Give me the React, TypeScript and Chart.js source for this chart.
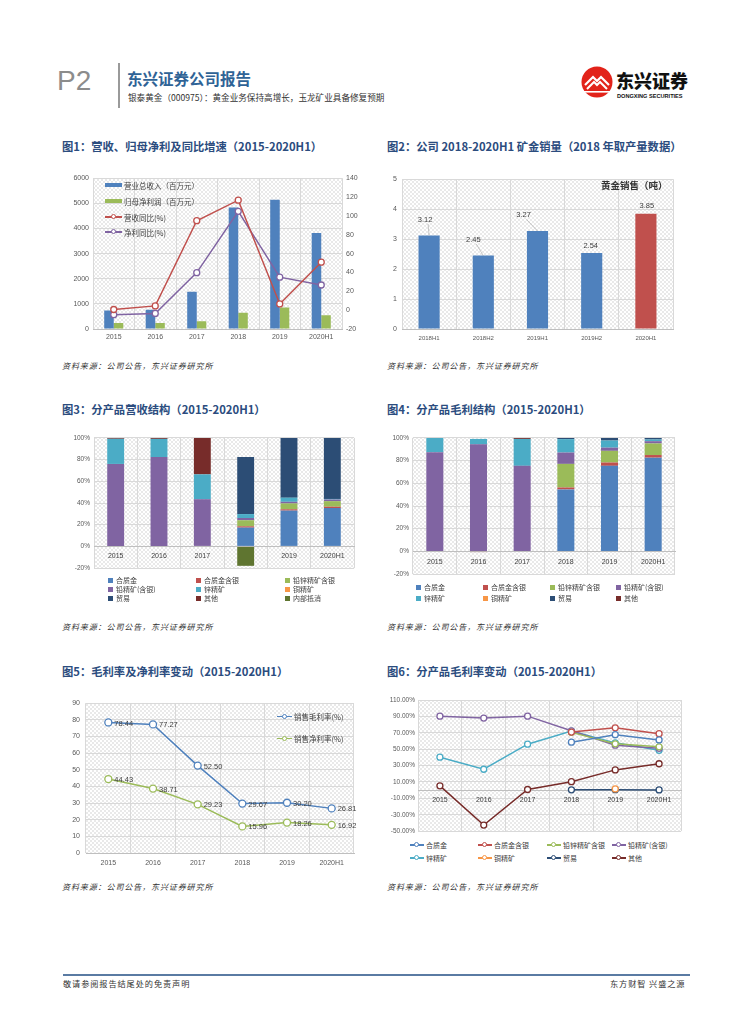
import React, { useEffect, useRef } from "react";
import { Chart, registerables } from "chart.js";
Chart.register(...registerables);

const NUM_FONT = '"Liberation Sans", Arial, sans-serif';
const CJK_FONT = '"Noto Sans CJK SC", "Liberation Sans", sans-serif';

// ---------- DATA ----------
const years = ["2015", "2016", "2017", "2018", "2019", "2020H1"];

// Fig 1
const revenue = [740, 770, 1480, 4830, 5140, 3820];
const netProfit = [234, 234, 312, 650, 857, 545];
const revenueYoY = [0.7, 4.5, 94.9, 116.7, 6.6, 50.9];
const profitYoY = [-4.8, -3.5, 39.8, 104.9, 35.0, 26.7];
const c1LeftTicks = [0, 1000, 2000, 3000, 4000, 5000, 6000];
const c1RightTicks = [-20, 0, 20, 40, 60, 80, 100, 120, 140];

// Fig 2
const halfYears = ["2018H1", "2018H2", "2019H1", "2019H2", "2020H1"];
const goldSales = [3.12, 2.45, 3.27, 2.54, 3.85];
const c2Ticks = [0, 1, 2, 3, 4, 5];

// Fig 3 / Fig 4 / Fig 6 product names
const products = ["合质金", "合质金含银", "铅锌精矿含银", "铅精矿(含银)", "锌精矿", "铜精矿", "贸易", "其他", "内部抵消"];

// Fig 3 revenue structure (%)
const revHzj = [0, 0, 0, 17.3, 33.0, 35.4];
const revHzjy = [0, 0, 0, 1.2, 1.2, 1.2];
const revQxjky = [0, 0, 0, 5.6, 5.4, 5.1];
const revQjk = [76.0, 82.4, 43.5, 2.1, 1.5, 1.5];
const revXjk = [23.2, 16.7, 22.9, 3.6, 3.8, 0.6];
const revTjk = [0, 0, 0, 0, 0, 0];
const revTrade = [0, 0, 0, 52.6, 55.1, 56.2];
const revOther = [0.8, 0.9, 33.6, 0, 0, 0];
const revElim = [0, 0, 0, -17.9, 0, 0];
const pctTicks = [-20, 0, 20, 40, 60, 80, 100];
const pctTickLabels = ["-20%", "0%", "20%", "40%", "60%", "80%", "100%"];

// Fig 4 gross profit structure (%)
const gpHzj = [0, 0, 0, 54.6, 75.4, 82.6];
const gpHzjy = [0, 0, 0, 1.7, 2.9, 2.3];
const gpQxjky = [0, 0, 0, 20.8, 10.3, 10.2];
const gpQjk = [87.4, 94.3, 75.4, 10.0, 2.8, 2.0];
const gpXjk = [12.6, 4.8, 23.7, 11.8, 6.3, 1.5];
const gpTjk = [0, 0, 0, 0, 0, 0];
const gpTrade = [0, 0, 0, 1.1, 2.3, 1.4];
const gpOther = [0, -0.6, 0.9, 0, 0, 0];

// Fig 5
const grossMargin = [78.44, 77.27, 52.5, 29.67, 30.2, 26.81];
const netMargin = [44.43, 38.71, 29.23, 15.96, 18.26, 16.92];
const c5Ticks = [0, 10, 20, 30, 40, 50, 60, 70, 80, 90];

// Fig 6 gross margin by product (%)
const gmHzj = [null, null, null, 58.5, 67.7, 61.3];
const gmHzjy = [null, null, null, 70.8, 76.0, 68.9];
const gmQxjky = [null, null, null, 70.5, 56.5, 52.9];
const gmQjk = [90.3, 88.0, 90.3, 72.4, 54.9, 51.0];
const gmXjk = [40.2, 25.5, 56.1, 72.0, 57.7, 48.6];
const gmTjk = [null, null, null, null, 1.5, null];
const gmTrade = [null, null, null, 0.4, 0.6, 0.3];
const gmOther = [5.2, -42.6, 0.8, 10.3, 24.7, 32.2];
const c6Ticks = [-50, -30, -10, 10, 30, 50, 70, 90, 110];
const c6TickLabels = ["-50.00%", "-30.00%", "-10.00%", "10.00%", "30.00%", "50.00%", "70.00%", "90.00%", "110.00%"];

// ---------- STYLE ----------
const BLUE = "#4f81bd";
const RED = "#c0504d";
const GREEN = "#9bbb59";
const PURPLE = "#8064a2";
const CYAN = "#4bacc6";
const ORANGE = "#f79646";
const NAVY = "#2c4d75";
const DARKRED = "#772c2a";
const DARKGREEN = "#5f7530";
const productColors = [BLUE, RED, GREEN, PURPLE, CYAN, ORANGE, NAVY, DARKRED, DARKGREEN];
const GRID = "#d9d9d9";
const TICK = "#595959";
const TITLE_COLOR = "#2b4c7e";

// label offsets for fig 2 (dx, dy, leader line)
const C2_LABEL_STYLE: [number, number, boolean][] = [
  [-4, -16, true],
  [-10, -16, true],
  [-14, -16, true],
  [-1, -7, false],
  [1, -8, false],
];

let hatchPattern: any = null;
function getHatch(ctx: CanvasRenderingContext2D) {
  if (!hatchPattern) {
    const c = document.createElement("canvas");
    c.width = 4;
    c.height = 4;
    const g = c.getContext("2d")!;
    g.fillStyle = "rgba(0,0,0,0.085)";
    for (let i = 0; i < 4; i++) {
      g.fillRect(i, i, 1, 1);
      if (3 - i !== i) g.fillRect(3 - i, i, 1, 1);
    }
    hatchPattern = ctx.createPattern(c, "repeat");
  }
  return hatchPattern;
}

const hatchPlugin = {
  id: "hatch",
  beforeDraw(chart: any) {
    const { ctx, chartArea } = chart;
    ctx.save();
    ctx.fillStyle = getHatch(ctx);
    ctx.fillRect(chartArea.left, chartArea.top, chartArea.right - chartArea.left, chartArea.bottom - chartArea.top);
    ctx.restore();
  },
};

const fixW = (w: number) => (s: any) => {
  s.width = w;
};
const fixH = (h: number) => (s: any) => {
  s.height = h;
};
const setTicks = (vals: number[]) => (s: any) => {
  s.ticks = vals.map((v) => ({ value: v }));
};
const labelTicks = (vals: number[], labels: string[]) => (v: any) => {
  const i = vals.indexOf(Number(v));
  return i >= 0 ? labels[i] : "";
};
const plainTick = (v: any) => String(v);

const font = (size: number) => ({ family: NUM_FONT, size });

const baseOptions = (padding: any) => ({
  animation: false,
  responsive: false,
  events: [],
  layout: { padding, autoPadding: false },
  plugins: { legend: { display: false }, tooltip: { enabled: false }, title: { display: false } },
});

const lineDs = (label: string, data: any[], color: string, extra: any = {}) => ({
  type: "line",
  label,
  data,
  borderColor: color,
  backgroundColor: "#ffffff",
  borderWidth: 1.5,
  pointRadius: 3,
  pointBorderWidth: 1.3,
  pointBackgroundColor: "#ffffff",
  pointBorderColor: color,
  tension: 0,
  spanGaps: false,
  ...extra,
});

// ---------- CHART CONFIGS ----------
function config1(): any {
  return {
    type: "bar",
    data: {
      labels: years,
      datasets: [
        { type: "bar", label: "营业总收入（百万元）", data: revenue, backgroundColor: BLUE, yAxisID: "y", order: 2 },
        { type: "bar", label: "归母净利润（百万元）", data: netProfit, backgroundColor: GREEN, yAxisID: "y", order: 2 },
        lineDs("营收同比(%)", revenueYoY, RED, { yAxisID: "y1", order: 1 }),
        lineDs("净利同比(%)", profitYoY, PURPLE, { yAxisID: "y1", order: 1 }),
      ],
    },
    options: {
      ...baseOptions({ top: 5, left: 0, right: 0, bottom: 0 }),
      datasets: { bar: { categoryPercentage: 0.46, barPercentage: 1 } },
      scales: {
        x: {
          grid: { offset: true, color: GRID, drawTicks: false },
          border: { color: "#bfbfbf" },
          ticks: { font: font(7), color: TICK, padding: 4, maxRotation: 0, autoSkip: false },
          afterFit: fixH(16),
        },
        y: {
          position: "left",
          min: c1LeftTicks[0],
          max: c1LeftTicks[c1LeftTicks.length - 1],
          afterBuildTicks: setTicks(c1LeftTicks),
          grid: { color: GRID, drawTicks: false },
          border: { display: false },
          ticks: { font: font(7), color: TICK, padding: 4, callback: plainTick },
          afterFit: fixW(33),
        },
        y1: {
          position: "right",
          min: c1RightTicks[0],
          max: c1RightTicks[c1RightTicks.length - 1],
          afterBuildTicks: setTicks(c1RightTicks),
          grid: { display: false, drawTicks: false },
          border: { display: false },
          ticks: { font: font(7), color: TICK, padding: 4, callback: plainTick },
          afterFit: fixW(28),
        },
      },
    },
    plugins: [hatchPlugin],
  };
}

const c2LabelPlugin = {
  id: "c2labels",
  afterDatasetsDraw(chart: any) {
    const { ctx } = chart;
    const meta = chart.getDatasetMeta(0);
    const values = chart.data.datasets[0].data;
    ctx.save();
    ctx.font = `7.5px ${NUM_FONT}`;
    ctx.fillStyle = "#404040";
    ctx.textAlign = "center";
    ctx.textBaseline = "middle";
    meta.data.forEach((bar: any, i: number) => {
      const [dx, dy, leader] = C2_LABEL_STYLE[i];
      const lx = bar.x + dx;
      const ly = bar.y + dy;
      if (leader) {
        ctx.strokeStyle = "#a6a6a6";
        ctx.lineWidth = 0.6;
        ctx.beginPath();
        ctx.moveTo(lx + 3, ly + 4.5);
        ctx.lineTo(bar.x, bar.y);
        ctx.stroke();
      }
      ctx.fillText(Number(values[i]).toFixed(2), lx, ly);
    });
    ctx.restore();
  },
};

function config2(): any {
  return {
    type: "bar",
    data: {
      labels: halfYears,
      datasets: [
        {
          label: "黄金销售（吨）",
          data: goldSales,
          backgroundColor: halfYears.map((_, i) => (i === halfYears.length - 1 ? RED : BLUE)),
          barPercentage: 0.39,
          categoryPercentage: 1,
        },
      ],
    },
    options: {
      ...baseOptions({ top: 5, left: 0, right: 12, bottom: 0 }),
      scales: {
        x: {
          grid: { offset: true, color: GRID, drawTicks: false },
          border: { color: "#bfbfbf" },
          ticks: { font: font(6), color: TICK, padding: 6, maxRotation: 0, autoSkip: false },
          afterFit: fixH(16),
        },
        y: {
          min: c2Ticks[0],
          max: c2Ticks[c2Ticks.length - 1],
          afterBuildTicks: setTicks(c2Ticks),
          grid: { color: GRID, drawTicks: false },
          border: { display: false },
          ticks: { font: font(7), color: TICK, padding: 5, callback: plainTick },
          afterFit: fixW(17),
        },
      },
    },
    plugins: [hatchPlugin, c2LabelPlugin],
  };
}

function stackedConfig(series: number[][], yWidth: number, padding: any, labelPad: number): any {
  return {
    type: "bar",
    data: {
      labels: years,
      datasets: series.map((d, i) => ({
        label: products[i],
        data: d,
        backgroundColor: productColors[i],
        barPercentage: 0.39,
        categoryPercentage: 1,
      })),
    },
    options: {
      ...baseOptions(padding),
      scales: {
        x: {
          stacked: true,
          position: { y: 0 },
          grid: { offset: true, color: GRID, drawTicks: false },
          border: { color: "#bfbfbf" },
          ticks: { font: font(7), color: "#404040", padding: labelPad, maxRotation: 0, autoSkip: false },
        },
        y: {
          stacked: true,
          min: pctTicks[0],
          max: pctTicks[pctTicks.length - 1],
          afterBuildTicks: setTicks(pctTicks),
          grid: { color: GRID, drawTicks: false },
          border: { display: false },
          ticks: { font: font(6.5), color: TICK, padding: 4, callback: labelTicks(pctTicks, pctTickLabels) },
          afterFit: fixW(yWidth),
        },
      },
    },
    plugins: [hatchPlugin],
  };
}

function config3(): any {
  return stackedConfig(
    [revHzj, revHzjy, revQxjky, revQjk, revXjk, revTjk, revTrade, revOther, revElim],
    34,
    { top: 7, left: 0, right: 6, bottom: 4 },
    5
  );
}

function config4(): any {
  return stackedConfig(
    [gpHzj, gpHzjy, gpQxjky, gpQjk, gpXjk, gpTjk, gpTrade, gpOther],
    28,
    { top: 7, left: 0, right: 10, bottom: 5 },
    6
  );
}

const c5LabelPlugin = {
  id: "c5labels",
  afterDatasetsDraw(chart: any) {
    const { ctx } = chart;
    ctx.save();
    ctx.font = `7.5px ${NUM_FONT}`;
    ctx.fillStyle = "#404040";
    ctx.textAlign = "left";
    ctx.textBaseline = "middle";
    chart.data.datasets.forEach((ds: any, di: number) => {
      const meta = chart.getDatasetMeta(di);
      meta.data.forEach((pt: any, i: number) => {
        ctx.fillText(Number(ds.data[i]).toFixed(2), pt.x + 6, pt.y + 1);
      });
    });
    ctx.restore();
  },
};

function config5(): any {
  return {
    type: "line",
    data: {
      labels: years,
      datasets: [
        lineDs("销售毛利率(%)", grossMargin, BLUE, { pointRadius: 3.5 }),
        lineDs("销售净利率(%)", netMargin, GREEN, { pointRadius: 3.5 }),
      ],
    },
    options: {
      ...baseOptions({ top: 7, left: 0, right: 11, bottom: 0 }),
      scales: {
        x: {
          offset: true,
          grid: { offset: true, color: GRID, drawTicks: false },
          border: { color: "#bfbfbf" },
          ticks: { font: font(7), color: TICK, padding: 6, maxRotation: 0, autoSkip: false },
          afterFit: fixH(20),
        },
        y: {
          min: c5Ticks[0],
          max: c5Ticks[c5Ticks.length - 1],
          afterBuildTicks: setTicks(c5Ticks),
          grid: { color: GRID, drawTicks: false },
          border: { display: false },
          ticks: { font: font(7), color: TICK, padding: 6, callback: plainTick },
          afterFit: fixW(31),
        },
      },
    },
    plugins: [hatchPlugin, c5LabelPlugin],
  };
}

function config6(): any {
  const series = [gmHzj, gmHzjy, gmQxjky, gmQjk, gmXjk, gmTjk, gmTrade, gmOther];
  const colors = [BLUE, RED, GREEN, PURPLE, CYAN, ORANGE, NAVY, DARKRED];
  return {
    type: "line",
    data: {
      labels: years,
      datasets: series.map((d, i) => lineDs(products[i], d, colors[i])),
    },
    options: {
      ...baseOptions({ top: 7, left: 0, right: 9, bottom: 4 }),
      scales: {
        x: {
          offset: true,
          position: { y: 0 },
          grid: { offset: true, color: GRID, drawTicks: false },
          border: { color: "#bfbfbf" },
          ticks: { font: font(7), color: "#404040", padding: 6, maxRotation: 0, autoSkip: false },
        },
        y: {
          min: c6Ticks[0],
          max: c6Ticks[c6Ticks.length - 1],
          afterBuildTicks: setTicks(c6Ticks),
          grid: { color: GRID, drawTicks: false },
          border: { display: false },
          ticks: { font: font(6.5), color: TICK, padding: 3, callback: labelTicks(c6Ticks, c6TickLabels) },
          afterFit: fixW(33),
        },
      },
    },
    plugins: [hatchPlugin],
  };
}

// ---------- COMPONENTS ----------
function ChartCanvas({ x, y, w, h, make }: { x: number; y: number; w: number; h: number; make: () => any }) {
  const ref = useRef<HTMLCanvasElement | null>(null);
  useEffect(() => {
    const chart = new Chart(ref.current as HTMLCanvasElement, make());
    return () => chart.destroy();
  }, []);
  return (
    <canvas
      ref={ref}
      width={w}
      height={h}
      style={{ position: "absolute", left: x, top: y, width: w, height: h }}
    />
  );
}

function T({ x, y, s, children, style }: { x: number; y: number; s: number; children: any; style?: any }) {
  return (
    <div
      style={{
        position: "absolute",
        left: x,
        top: y - s * 0.6,
        fontSize: s,
        lineHeight: 1.2,
        whiteSpace: "nowrap",
        fontFamily: CJK_FONT,
        ...style,
      }}
    >
      {children}
    </div>
  );
}

function LineMark({ color, w }: { color: string; w: number }) {
  return (
    <span style={{ position: "relative", display: "inline-block", width: w, height: 8 }}>
      <span style={{ position: "absolute", left: 0, right: 0, top: 3.25, height: 1.5, background: color }} />
      <span
        style={{
          position: "absolute",
          left: w / 2 - 3,
          top: 1,
          width: 3.4,
          height: 3.4,
          borderRadius: "50%",
          border: `1.3px solid ${color}`,
          background: "#fff",
        }}
      />
    </span>
  );
}

type LegendItem = { label: string; color: string; x: number; y: number };
function Legend({ items, kind, s, markW, gap }: { items: LegendItem[]; kind: "box" | "bar" | "line"; s: number; markW: number; gap: number }) {
  return (
    <>
      {items.map((it, i) => (
        <div
          key={i}
          style={{
            position: "absolute",
            left: it.x,
            top: it.y - 5,
            height: 10,
            display: "flex",
            alignItems: "center",
            whiteSpace: "nowrap",
            fontFamily: CJK_FONT,
            fontSize: s,
            color: "#404040",
          }}
        >
          {kind === "line" ? (
            <LineMark color={it.color} w={markW} />
          ) : kind === "bar" ? (
            <span style={{ display: "inline-block", width: markW, height: 4.5, background: it.color }} />
          ) : (
            <span style={{ display: "inline-block", width: markW, height: markW, background: it.color }} />
          )}
          <span style={{ marginLeft: gap }}>{it.label}</span>
        </div>
      ))}
    </>
  );
}

const titleStyle = { color: TITLE_COLOR, fontWeight: 700 };
const sourceStyle = { color: "#333", fontStyle: "italic", letterSpacing: 0.9 };
const SOURCE = "资料来源：公司公告，东兴证券研究所";

function Logo() {
  return (
    <svg style={{ position: "absolute", left: 581, top: 66 }} width={32} height={32} viewBox="0 0 32 32">
      <circle cx={16} cy={16} r={15.5} fill="#e2231a" />
      <path d="M4 19 L12 11 L16 15 L20 11 L28 19" stroke="#fff" strokeWidth={2.2} fill="none" />
      <path d="M6 23 L13 16 L16 19 L19 16 L26 23" stroke="#fff" strokeWidth={2} fill="none" />
      <rect x={3} y={25} width={26} height={1.6} fill="#fff" />
    </svg>
  );
}

export default function App() {
  const c1Legend: LegendItem[] = [
    { label: "营业总收入（百万元）", color: BLUE, x: 105, y: 185 },
    { label: "归母净利润（百万元）", color: GREEN, x: 105, y: 201 },
  ];
  const c1LegendLines: LegendItem[] = [
    { label: "营收同比(%)", color: RED, x: 105, y: 217 },
    { label: "净利同比(%)", color: PURPLE, x: 105, y: 232 },
  ];
  const c3Cols = [108, 196, 285];
  const c3Rows = [580, 589, 598];
  const c3Legend: LegendItem[] = products.map((p, i) => ({
    label: p,
    color: productColors[i],
    x: c3Cols[i % 3],
    y: c3Rows[Math.floor(i / 3)],
  }));
  const c4Cols = [416, 483, 550, 616];
  const c4Rows = [587, 598];
  const c4Legend: LegendItem[] = products.slice(0, 8).map((p, i) => ({
    label: p,
    color: productColors[i],
    x: c4Cols[i % 4],
    y: c4Rows[Math.floor(i / 4)],
  }));
  const c5Legend: LegendItem[] = [
    { label: "销售毛利率(%)", color: BLUE, x: 277, y: 716.7 },
    { label: "销售净利率(%)", color: GREEN, x: 277, y: 738.7 },
  ];
  const c6Cols = [410, 478, 547, 612];
  const c6Rows = [845, 858];
  const c6Legend: LegendItem[] = products.slice(0, 8).map((p, i) => ({
    label: p,
    color: [BLUE, RED, GREEN, PURPLE, CYAN, ORANGE, NAVY, DARKRED][i],
    x: c6Cols[i % 4],
    y: c6Rows[Math.floor(i / 4)],
  }));

  return (
    <div style={{ position: "absolute", left: 0, top: 0, width: 755, height: 1024, background: "#fff", overflow: "hidden" }}>
      {/* header */}
      <T x={57} y={81} s={28} style={{ fontFamily: NUM_FONT, color: "#8c8c8c" }}>
        P2
      </T>
      <div style={{ position: "absolute", left: 118, top: 63, width: 1.5, height: 45, background: "#9a9a9a" }} />
      <T x={127} y={78} s={15.5} style={{ color: "#2f6396", fontWeight: 700 }}>
        东兴证券公司报告
      </T>
      <T x={128} y={97.5} s={8.6} style={{ color: "#333" }}>
        银泰黄金（000975）：黄金业务保持高增长，玉龙矿业具备修复预期
      </T>
      <Logo />
      <T x={616} y={81} s={18} style={{ color: "#111", fontWeight: 900 }}>
        东兴证券
      </T>
      <T x={617} y={96.5} s={5.6} style={{ fontFamily: NUM_FONT, color: "#111", fontWeight: 700 }}>
        DONGXING SECURITIES
      </T>

      {/* row 1 */}
      <T x={62} y={147} s={11.3} style={titleStyle}>
        图1：营收、归母净利及同比增速（2015-2020H1）
      </T>
      <T x={387} y={147} s={11.3} style={titleStyle}>
        图2：公司 2018-2020H1 矿金销量（2018 年取产量数据）
      </T>
      <ChartCanvas x={60} y={170} w={310} h={175} make={config1} />
      <Legend items={c1Legend} kind="bar" s={7.5} markW={17} gap={2} />
      <Legend items={c1LegendLines} kind="line" s={7.5} markW={17} gap={2} />
      <ChartCanvas x={385} y={170} w={300} h={175} make={config2} />
      <T x={601} y={186} s={9.5} style={{ color: "#333", fontWeight: 700 }}>
        黄金销售（吨）
      </T>
      <T x={62} y={366} s={8} style={sourceStyle}>
        {SOURCE}
      </T>
      <T x={387} y={366} s={8} style={sourceStyle}>
        {SOURCE}
      </T>

      {/* row 2 */}
      <T x={62} y={410} s={11.3} style={titleStyle}>
        图3：分产品营收结构（2015-2020H1）
      </T>
      <T x={387} y={410} s={11.3} style={titleStyle}>
        图4：分产品毛利结构（2015-2020H1）
      </T>
      <ChartCanvas x={60} y={430} w={300} h={146} make={config3} />
      <Legend items={c3Legend} kind="box" s={7} markW={5} gap={3} />
      <ChartCanvas x={385} y={430} w={300} h={152} make={config4} />
      <Legend items={c4Legend} kind="box" s={7} markW={5} gap={3} />
      <T x={62} y={627} s={8} style={sourceStyle}>
        {SOURCE}
      </T>
      <T x={387} y={627} s={8} style={sourceStyle}>
        {SOURCE}
      </T>

      {/* row 3 */}
      <T x={62} y={672} s={11.3} style={titleStyle}>
        图5：毛利率及净利率变动（2015-2020H1）
      </T>
      <T x={387} y={672} s={11.3} style={titleStyle}>
        图6：分产品毛利率变动（2015-2020H1）
      </T>
      <ChartCanvas x={55} y={693} w={310} h={180} make={config5} />
      <Legend items={c5Legend} kind="line" s={7.5} markW={15} gap={2} />
      <ChartCanvas x={385} y={693} w={305} h={145} make={config6} />
      <Legend items={c6Legend} kind="line" s={7} markW={14} gap={2} />
      <T x={62} y={887} s={8} style={sourceStyle}>
        {SOURCE}
      </T>
      <T x={387} y={887} s={8} style={sourceStyle}>
        {SOURCE}
      </T>

      {/* footer */}
      <div style={{ position: "absolute", left: 63, top: 974, width: 627, height: 2, background: "#5a7ba3" }} />
      <T x={63} y={984} s={8.2} style={{ color: "#333", letterSpacing: 0.9 }}>
        敬请参阅报告结尾处的免责声明
      </T>
      <T x={610} y={984} s={8.2} style={{ color: "#333", letterSpacing: 0.9 }}>
        东方财智 兴盛之源
      </T>
    </div>
  );
}
